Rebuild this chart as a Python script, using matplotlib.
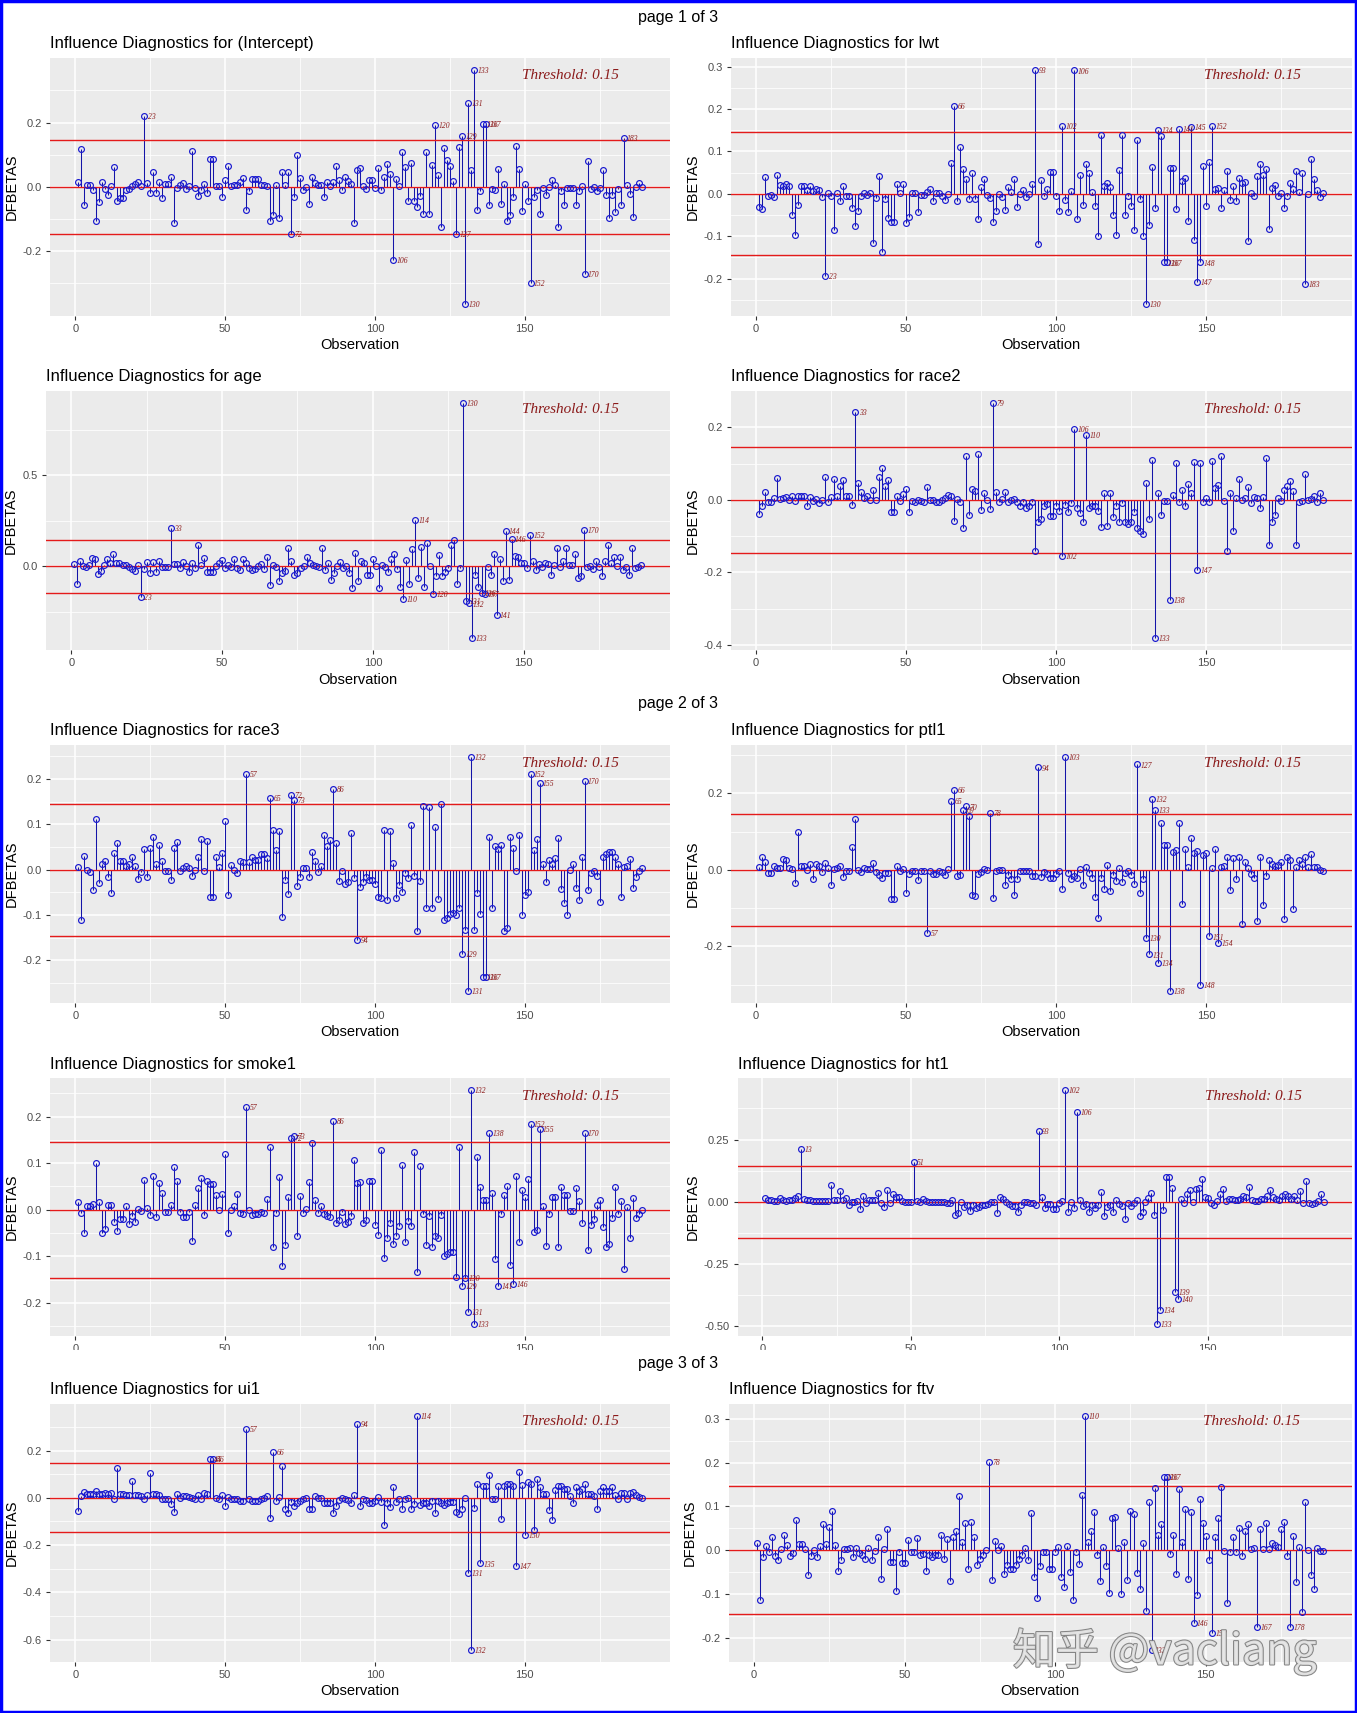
import matplotlib.pyplot as plt
import matplotlib.patches as mpatches
import matplotlib.patheffects as pe
from matplotlib.ticker import FuncFormatter

plt.rcParams['font.family'] = ['Liberation Sans', 'DejaVu Sans']

obs = list(range(1, 190))
threshold = 0.1455  # 2/sqrt(n), shown as 0.15

dfb_intercept = [
    0.016, 0.118, -0.056, 0.007, 0.007, -0.010, -0.108, -0.046, 0.016, -0.007,
    -0.025, 0.004, 0.062, -0.043, -0.035, -0.035, -0.011, -0.007, 0.003, 0.008,
    0.016, 0.004, 0.220, 0.011, -0.018, 0.046, -0.018, 0.015, -0.034, 0.009,
    0.009, 0.031, -0.114, -0.005, 0.006, 0.011, -0.008, 0.004, 0.112, -0.003,
    -0.030, -0.009, 0.010, -0.020, 0.087, 0.087, 0.003, 0.003, -0.033, 0.020,
    0.066, 0.002, 0.005, 0.005, 0.016, 0.026, -0.073, -0.013, 0.025, 0.023,
    0.023, 0.007, 0.007, 0.001, -0.107, -0.087, 0.007, -0.098, 0.047, 0.007,
    0.047, -0.147, -0.033, 0.099, 0.029, -0.011, 0.000, -0.052, 0.031, 0.011,
    0.007, 0.007, -0.033, 0.016, 0.003, 0.014, 0.065, 0.021, -0.011, 0.031,
    0.019, 0.010, -0.114, 0.053, 0.058, 0.004, -0.006, 0.020, 0.020, -0.004,
    0.060, -0.011, 0.032, 0.071, 0.041, -0.229, 0.025, 0.003, 0.108, 0.061,
    -0.045, 0.074, -0.043, -0.062, -0.028, -0.084, 0.108, -0.084, 0.068, 0.194,
    0.038, -0.124, 0.121, 0.082, 0.066, 0.018, -0.147, 0.123, 0.158, -0.365,
    0.260, 0.053, 0.365, -0.071, -0.014, 0.195, 0.195, -0.056, -0.007, -0.011,
    0.056, -0.052, 0.010, -0.105, -0.088, -0.031, 0.127, 0.057, -0.076, 0.009,
    -0.045, -0.300, -0.033, -0.011, -0.084, -0.004, -0.025, -0.002, 0.021, 0.005,
    -0.124, -0.014, -0.056, -0.004, -0.004, -0.004, -0.056, -0.014, 0.004, -0.270,
    0.080, -0.006, 0.000, -0.014, -0.004, 0.052, -0.025, -0.097, -0.027, -0.079,
    -0.006, -0.056, 0.152, 0.007, -0.022, -0.093, 0.000, 0.013, 0.000]

dfb_lwt = [
    -0.030, -0.037, 0.040, -0.005, -0.002, -0.007, 0.045, 0.020, 0.018, 0.024,
    0.018, -0.049, -0.098, -0.026, 0.018, 0.018, 0.010, 0.018, 0.007, 0.011,
    0.010, -0.007, -0.193, 0.003, -0.005, -0.085, 0.002, -0.016, 0.018, -0.005,
    -0.005, -0.033, -0.077, -0.040, -0.005, 0.001, -0.002, 0.003, -0.117, -0.010,
    0.042, -0.138, -0.012, -0.058, -0.067, -0.067, 0.024, 0.003, 0.024, -0.070,
    -0.055, 0.003, 0.003, -0.044, -0.002, -0.002, 0.005, 0.011, -0.016, 0.003,
    0.003, -0.006, -0.014, -0.001, 0.073, 0.208, -0.016, 0.110, 0.058, 0.035,
    -0.012, 0.050, -0.012, -0.059, 0.016, 0.035, -0.002, -0.009, -0.067, -0.041,
    0.000, -0.007, -0.039, 0.016, 0.005, 0.035, -0.030, 0.000, 0.010, -0.007,
    -0.001, 0.024, 0.293, -0.119, 0.033, -0.005, 0.012, 0.051, 0.051, -0.005,
    -0.041, 0.160, -0.014, -0.044, 0.007, 0.291, -0.059, 0.045, -0.026, 0.071,
    0.050, 0.005, -0.028, -0.100, 0.138, 0.018, 0.026, 0.016, -0.050, -0.098,
    0.056, 0.138, -0.050, -0.005, -0.028, -0.086, 0.126, -0.012, -0.100, -0.260,
    -0.073, 0.064, -0.033, 0.150, 0.136, -0.162, -0.162, 0.061, 0.061, -0.037,
    0.153, 0.030, 0.037, -0.063, 0.158, -0.108, -0.207, -0.162, 0.065, -0.028,
    0.075, 0.161, 0.011, 0.013, -0.033, 0.009, 0.054, -0.014, 0.018, -0.016,
    0.037, 0.026, 0.028, -0.112, 0.003, -0.005, 0.042, 0.070, 0.045, 0.058,
    -0.082, 0.014, 0.021, -0.005, 0.003, -0.034, -0.004, 0.026, 0.012, 0.054,
    0.005, 0.048, -0.213, 0.000, 0.083, 0.035, 0.010, -0.007, 0.003]

dfb_age = [
    0.011, -0.099, 0.029, 0.002, -0.002, 0.009, 0.044, 0.038, -0.044, -0.026,
    0.009, 0.042, 0.020, 0.066, 0.020, 0.020, 0.009, 0.005, -0.005, -0.016,
    -0.027, 0.007, -0.168, -0.015, 0.024, -0.038, 0.022, -0.031, 0.029, -0.002,
    -0.002, -0.002, 0.210, 0.013, 0.013, -0.009, 0.022, 0.000, -0.031, 0.018,
    -0.009, 0.115, 0.007, 0.044, -0.031, -0.031, -0.031, 0.002, 0.016, 0.033,
    -0.009, 0.007, -0.004, 0.038, -0.009, -0.020, 0.040, 0.016, -0.007, -0.022,
    -0.013, 0.004, 0.015, -0.015, 0.049, -0.103, 0.005, -0.005, -0.082, -0.038,
    -0.024, 0.103, 0.029, -0.046, -0.035, -0.009, 0.000, 0.053, 0.020, 0.009,
    0.000, -0.004, 0.103, -0.020, 0.016, -0.075, -0.035, 0.002, 0.024, -0.009,
    0.004, -0.038, -0.119, 0.071, -0.081, 0.031, 0.016, -0.049, -0.049, 0.040,
    0.000, -0.119, 0.009, -0.005, -0.031, 0.042, 0.066, -0.013, -0.115, -0.181,
    0.035, -0.095, 0.095, 0.253, -0.064, 0.104, -0.114, 0.126, 0.000, -0.150,
    -0.055, 0.060, -0.051, -0.033, -0.009, 0.115, 0.144, -0.095, -0.009, 0.896,
    -0.190, -0.203, -0.394, -0.046, -0.114, -0.148, -0.152, -0.005, -0.046, 0.066,
    -0.266, 0.040, -0.081, 0.196, -0.077, 0.150, 0.057, 0.049, 0.016, 0.020,
    -0.009, 0.172, 0.029, -0.020, 0.011, -0.005, 0.016, 0.013, -0.049, 0.009,
    0.099, -0.004, 0.029, 0.099, 0.007, 0.009, 0.066, -0.064, -0.055, 0.198,
    -0.005, 0.004, -0.016, 0.029, -0.005, -0.051, 0.029, 0.119, 0.020, 0.053,
    0.004, 0.049, -0.020, -0.005, -0.049, 0.101, -0.009, -0.005, 0.007]

dfb_race2 = [
    -0.039, -0.016, 0.022, -0.005, -0.005, 0.005, 0.061, 0.003, 0.005, 0.008,
    0.000, 0.012, -0.003, 0.012, 0.012, 0.012, -0.017, 0.007, -0.004, 0.003,
    -0.009, 0.000, 0.064, -0.006, 0.007, 0.058, 0.012, 0.039, 0.055, 0.012,
    0.012, -0.013, 0.242, 0.047, 0.022, 0.004, 0.012, 0.000, 0.028, 0.000,
    0.064, 0.089, 0.039, 0.055, -0.032, -0.032, 0.012, -0.003, 0.017, 0.030,
    -0.034, -0.003, -0.005, 0.000, -0.002, -0.005, 0.037, 0.000, 0.000, -0.005,
    -0.005, 0.000, 0.005, 0.014, 0.012, -0.057, 0.003, -0.007, -0.078, 0.120,
    -0.042, 0.030, 0.026, 0.128, -0.028, 0.018, 0.000, -0.025, 0.268, 0.022,
    -0.006, 0.003, 0.022, -0.007, 0.000, 0.003, -0.006, -0.016, -0.006, -0.022,
    -0.016, -0.006, -0.142, -0.062, -0.053, -0.016, -0.012, -0.045, -0.045, -0.018,
    -0.031, -0.154, -0.014, -0.032, -0.009, 0.197, -0.022, -0.035, -0.060, 0.180,
    -0.023, -0.018, -0.018, -0.031, -0.074, 0.018, -0.071, 0.018, -0.046, -0.016,
    -0.060, -0.009, -0.062, -0.066, -0.060, -0.034, -0.078, -0.087, -0.094, 0.047,
    -0.053, 0.110, -0.382, 0.019, -0.041, -0.003, -0.003, -0.277, 0.014, 0.103,
    -0.006, 0.028, -0.018, 0.043, 0.018, 0.104, -0.194, 0.103, -0.005, 0.006,
    -0.006, 0.108, 0.032, 0.042, 0.120, -0.003, -0.141, 0.019, -0.087, 0.005,
    0.058, 0.000, 0.005, 0.037, -0.009, 0.008, 0.004, -0.022, 0.008, 0.116,
    -0.124, -0.060, -0.043, 0.006, -0.003, 0.028, 0.039, 0.051, 0.026, -0.124,
    -0.006, -0.003, 0.072, -0.001, 0.003, 0.012, -0.006, 0.018, 0.000]

dfb_race3 = [
    0.005, -0.111, 0.031, -0.001, -0.005, -0.045, 0.112, -0.030, 0.013, 0.019,
    -0.017, -0.052, 0.036, 0.058, 0.020, 0.020, 0.007, 0.012, 0.027, 0.007,
    -0.021, -0.005, 0.045, -0.017, 0.048, 0.073, 0.013, 0.055, 0.020, -0.003,
    -0.003, -0.023, 0.047, 0.061, -0.003, 0.004, 0.007, 0.004, -0.015, 0.000,
    0.027, 0.067, -0.004, 0.064, -0.061, -0.061, 0.028, 0.005, 0.036, 0.108,
    -0.055, 0.010, -0.001, -0.007, 0.020, 0.018, 0.212, 0.018, 0.027, 0.022,
    0.022, 0.034, 0.034, 0.026, 0.159, 0.088, 0.043, 0.086, -0.104, -0.023,
    -0.054, 0.164, 0.154, -0.036, -0.017, 0.004, 0.004, -0.017, 0.040, 0.020,
    -0.005, 0.007, 0.077, 0.053, 0.066, 0.179, 0.059, -0.025, -0.003, -0.031,
    -0.027, 0.080, -0.019, -0.155, -0.039, -0.027, -0.017, -0.023, -0.023, -0.031,
    -0.060, -0.063, 0.088, -0.066, 0.085, 0.015, -0.063, -0.034, -0.049, -0.007,
    -0.019, 0.098, -0.015, -0.135, -0.025, 0.141, -0.085, 0.139, -0.084, 0.095,
    -0.064, 0.144, -0.110, -0.107, -0.098, -0.095, -0.101, -0.085, -0.185, -0.133,
    -0.268, 0.249, -0.133, -0.052, -0.098, -0.236, -0.236, 0.073, -0.085, 0.053,
    0.045, 0.055, -0.135, -0.128, 0.071, 0.047, -0.004, 0.076, -0.100, -0.056,
    -0.049, 0.211, 0.043, 0.067, 0.192, 0.013, -0.027, 0.022, 0.012, 0.025,
    0.069, -0.042, -0.073, -0.101, 0.000, 0.013, -0.040, -0.066, 0.029, 0.196,
    -0.044, -0.007, -0.004, -0.014, -0.072, 0.029, 0.034, 0.040, 0.040, 0.027,
    0.012, -0.060, 0.005, 0.007, 0.023, -0.040, -0.017, -0.004, 0.003]

dfb_ptl1 = [
    0.007, 0.033, 0.022, -0.007, -0.007, 0.010, 0.006, 0.006, 0.028, 0.025,
    0.006, 0.002, -0.035, 0.099, 0.010, 0.010, 0.000, 0.015, -0.023, 0.015,
    0.010, -0.005, 0.017, 0.006, -0.040, 0.003, 0.006, 0.010, -0.018, -0.003,
    -0.003, 0.060, 0.134, 0.000, -0.005, 0.006, 0.003, 0.003, 0.019, -0.005,
    -0.014, -0.022, -0.007, -0.007, -0.075, -0.075, 0.010, -0.003, 0.002, -0.060,
    -0.010, -0.003, -0.003, -0.027, -0.003, -0.003, -0.165, -0.003, -0.010, -0.010,
    -0.003, -0.005, -0.013, 0.002, 0.181, 0.210, -0.016, -0.014, 0.157, 0.166,
    0.140, -0.065, -0.069, -0.011, -0.005, 0.003, 0.000, 0.149, -0.074, -0.003,
    0.000, 0.000, -0.040, -0.014, -0.023, -0.066, -0.023, -0.003, -0.003, -0.003,
    -0.003, -0.016, -0.016, 0.268, -0.018, -0.005, -0.010, -0.020, -0.020, -0.010,
    -0.003, -0.049, 0.296, -0.007, -0.023, -0.016, -0.022, 0.003, -0.040, 0.008,
    -0.007, -0.022, -0.071, -0.125, -0.022, -0.049, 0.012, -0.055, -0.014, -0.029,
    0.006, -0.032, -0.007, -0.003, -0.014, -0.037, 0.276, -0.061, -0.023, -0.177,
    -0.221, 0.185, 0.157, -0.244, 0.122, 0.064, 0.064, -0.317, 0.048, 0.051,
    0.122, -0.089, 0.054, 0.009, 0.083, 0.045, 0.049, -0.301, 0.038, 0.045,
    -0.174, 0.004, 0.054, -0.192, 0.007, 0.010, 0.035, -0.052, 0.030, -0.023,
    0.033, -0.141, 0.022, 0.004, -0.011, -0.022, -0.133, 0.035, -0.091, -0.016,
    0.025, 0.015, 0.010, 0.012, 0.022, -0.128, 0.035, 0.025, -0.101, 0.007,
    0.025, 0.015, 0.033, 0.009, 0.042, 0.007, 0.007, -0.001, -0.003]

dfb_smoke1 = [
    0.016, -0.007, -0.049, 0.007, 0.007, 0.013, 0.100, 0.016, -0.050, -0.041,
    0.010, 0.011, -0.026, -0.046, -0.020, -0.020, 0.007, -0.030, -0.013, -0.027,
    0.001, -0.003, 0.063, 0.004, -0.011, 0.072, -0.015, 0.058, 0.037, -0.004,
    -0.004, 0.011, 0.091, 0.061, -0.004, -0.015, -0.015, -0.004, -0.066, 0.011,
    0.047, 0.069, -0.011, 0.061, 0.055, 0.055, 0.031, 0.000, 0.033, 0.119,
    -0.050, -0.001, 0.009, 0.034, -0.007, -0.009, 0.220, 0.000, -0.011, -0.009,
    -0.009, -0.004, -0.007, 0.023, 0.134, -0.081, -0.007, 0.070, -0.120, -0.075,
    0.027, 0.154, 0.159, -0.056, 0.029, -0.007, 0.001, 0.059, 0.144, 0.021,
    -0.007, 0.007, -0.009, -0.013, -0.015, 0.190, -0.029, -0.023, -0.004, -0.030,
    -0.026, -0.014, 0.107, 0.058, 0.060, -0.029, -0.021, 0.061, 0.061, -0.032,
    -0.054, 0.129, -0.104, -0.060, -0.029, -0.073, -0.057, -0.034, 0.096, -0.069,
    -0.024, -0.034, 0.124, -0.134, 0.094, -0.009, -0.076, -0.014, -0.079, -0.057,
    -0.061, -0.011, -0.099, -0.095, -0.091, -0.091, -0.144, 0.134, -0.164, -0.147,
    -0.219, 0.257, -0.246, 0.113, 0.049, 0.021, 0.021, 0.165, 0.036, -0.105,
    -0.163, -0.009, 0.031, 0.050, -0.118, -0.159, 0.073, -0.070, 0.043, 0.028,
    0.066, 0.184, -0.047, -0.043, 0.173, 0.007, -0.077, -0.009, 0.028, 0.028,
    -0.080, 0.049, 0.031, 0.031, -0.003, -0.003, 0.047, 0.019, -0.029, 0.165,
    -0.086, -0.032, -0.020, 0.011, 0.021, -0.036, -0.081, -0.074, -0.017, 0.049,
    -0.009, 0.019, -0.127, 0.006, -0.060, 0.026, -0.017, -0.009, -0.001]

dfb_ht1 = [
    0.013, 0.008, 0.005, 0.001, 0.004, 0.015, 0.005, 0.004, 0.008, 0.007,
    0.013, 0.023, 0.211, 0.011, 0.007, 0.005, 0.003, 0.003, 0.003, 0.004,
    0.004, 0.004, 0.068, 0.008, 0.008, 0.044, 0.008, 0.013, -0.015, -0.001,
    -0.001, 0.003, -0.029, 0.024, -0.004, 0.008, 0.008, 0.008, 0.036, -0.004,
    -0.020, 0.047, -0.004, 0.029, 0.019, 0.019, 0.003, -0.001, -0.001, -0.001,
    0.160, 0.003, -0.001, 0.009, 0.001, -0.001, -0.001, -0.001, -0.001, -0.001,
    -0.001, -0.007, -0.005, 0.008, -0.053, -0.045, 0.000, -0.023, -0.012, -0.036,
    -0.013, -0.027, -0.020, -0.015, -0.012, -0.009, -0.003, -0.001, -0.044, 0.017,
    0.009, -0.001, -0.009, -0.017, -0.017, -0.043, -0.012, -0.003, -0.003, -0.005,
    -0.005, -0.015, 0.285, 0.020, -0.027, -0.008, -0.009, -0.031, -0.031, -0.005,
    0.003, 0.449, -0.040, 0.000, -0.027, 0.361, 0.007, -0.017, -0.009, -0.040,
    -0.013, -0.024, -0.012, 0.041, -0.059, -0.023, -0.013, -0.041, 0.005, -0.009,
    -0.017, -0.068, -0.004, -0.016, -0.005, 0.008, -0.059, -0.041, -0.001, 0.015,
    0.036, -0.055, -0.493, -0.436, -0.032, 0.098, 0.098, 0.056, -0.364, -0.389,
    0.011, -0.004, 0.032, 0.048, 0.000, 0.053, 0.057, 0.090, 0.020, 0.015,
    -0.004, -0.013, 0.003, 0.032, 0.053, 0.003, 0.011, 0.009, 0.007, 0.007,
    0.011, 0.021, 0.017, 0.061, 0.008, 0.004, 0.004, 0.009, 0.011, 0.021,
    0.048, 0.017, 0.011, 0.007, 0.024, 0.032, 0.021, 0.011, 0.021, 0.008,
    0.044, -0.004, 0.084, -0.004, -0.009, -0.004, 0.003, 0.032, -0.003]

dfb_ui1 = [
    -0.055, 0.007, 0.025, 0.014, 0.017, 0.014, 0.029, 0.017, 0.014, 0.020,
    0.014, 0.020, -0.004, 0.128, 0.014, 0.014, 0.010, 0.010, 0.073, 0.010,
    0.010, 0.007, -0.004, 0.010, 0.104, 0.014, 0.014, 0.010, -0.007, -0.004,
    -0.007, -0.028, -0.059, 0.015, -0.003, 0.007, 0.006, 0.003, 0.000, -0.006,
    0.010, -0.007, 0.020, 0.015, 0.165, 0.165, 0.000, -0.007, 0.013, -0.036,
    0.003, -0.004, -0.004, -0.007, -0.013, -0.013, 0.290, -0.004, -0.015, -0.015,
    -0.013, -0.007, -0.001, 0.007, -0.084, 0.194, -0.013, 0.003, 0.135, -0.046,
    -0.063, -0.017, -0.036, -0.024, -0.013, -0.004, 0.001, -0.049, -0.049, 0.006,
    0.000, -0.003, -0.021, -0.024, -0.024, -0.063, -0.036, -0.008, 0.000, -0.007,
    -0.008, -0.021, 0.013, 0.314, -0.034, -0.004, -0.010, -0.024, -0.024, -0.013,
    0.004, -0.018, -0.115, -0.024, -0.041, 0.046, -0.017, -0.007, -0.046, -0.007,
    0.000, -0.046, -0.028, 0.348, -0.032, -0.024, -0.024, -0.036, -0.013, -0.066,
    -0.013, -0.024, -0.031, -0.024, -0.020, -0.020, -0.060, -0.069, -0.049, -0.003,
    -0.317, -0.644, -0.042, 0.060, -0.278, 0.050, 0.050, 0.097, -0.004, -0.007,
    0.050, -0.088, 0.050, 0.060, 0.060, 0.050, -0.290, 0.108, 0.055, -0.156,
    0.067, 0.060, -0.136, 0.081, 0.046, 0.014, 0.017, -0.053, -0.094, 0.034,
    0.050, 0.050, 0.039, 0.036, 0.007, -0.021, 0.046, 0.029, 0.036, 0.060,
    0.014, 0.014, 0.007, -0.049, 0.029, 0.046, 0.029, 0.029, 0.046, 0.013,
    -0.004, 0.020, 0.022, -0.007, 0.020, 0.025, 0.010, 0.004, 0.000]

dfb_ftv = [
    0.016, -0.114, -0.016, 0.009, -0.003, 0.030, -0.014, -0.021, 0.003, 0.035,
    0.012, -0.014, -0.006, 0.068, 0.014, 0.014, 0.003, -0.056, -0.014, 0.000,
    -0.016, 0.009, 0.059, 0.014, 0.052, 0.089, 0.011, -0.047, -0.023, 0.003,
    0.003, 0.006, -0.016, 0.005, -0.006, -0.011, -0.020, 0.005, -0.022, -0.001,
    0.030, -0.066, 0.003, 0.049, -0.027, -0.027, -0.092, -0.003, -0.030, -0.030,
    0.023, -0.003, -0.003, 0.027, -0.010, -0.008, -0.048, -0.010, -0.015, -0.010,
    -0.010, 0.035, -0.020, 0.025, -0.070, 0.030, 0.044, 0.123, 0.018, 0.063,
    -0.042, 0.064, 0.030, -0.033, -0.020, -0.010, 0.000, 0.201, -0.068, 0.022,
    0.000, 0.009, -0.055, -0.033, -0.043, -0.043, -0.033, -0.020, -0.010, 0.005,
    -0.021, 0.084, -0.061, -0.109, -0.036, -0.004, -0.004, -0.043, -0.043, -0.003,
    0.008, -0.061, -0.084, 0.009, -0.050, -0.114, -0.003, -0.032, 0.127, 0.307,
    0.018, 0.045, 0.088, -0.011, -0.070, 0.008, -0.035, -0.098, 0.074, 0.077,
    0.005, -0.100, 0.018, -0.068, 0.089, 0.083, -0.051, -0.088, 0.016, -0.139,
    0.110, -0.227, 0.143, 0.034, 0.060, 0.168, 0.168, -0.009, 0.035, -0.055,
    0.139, 0.020, 0.093, -0.066, 0.088, -0.166, -0.102, 0.118, 0.063, 0.032,
    -0.023, -0.188, 0.030, 0.074, 0.144, -0.001, -0.120, -0.004, 0.030, -0.004,
    0.051, -0.014, 0.045, 0.061, 0.002, 0.006, -0.174, 0.048, 0.003, 0.062,
    0.003, 0.016, 0.013, 0.008, 0.048, 0.064, -0.013, -0.174, 0.032, -0.072,
    0.007, -0.140, 0.111, 0.000, -0.056, -0.088, 0.005, -0.001, -0.001]

W, H = 1242.0, 1568.0  # layout measured on the reference (shrunk px)


def rect(l, r, t, b):
    return [l / W, 1 - b / H, (r - l) / W, (b - t) / H]


# name, values, major y ticks, minor y ticks, decimals, axes box (l, r, t, b), show xlabel
panels = [
    ("(Intercept)", dfb_intercept, [-0.2, 0.0, 0.2], [-0.3, -0.1, 0.1, 0.3], 1, (46, 613, 53, 289), True),
    ("lwt", dfb_lwt, [-0.2, -0.1, 0.0, 0.1, 0.2, 0.3], [-0.25, -0.15, -0.05, 0.05, 0.15, 0.25], 1, (669, 1237, 53, 289), True),
    ("age", dfb_age, [0.0, 0.5], [-0.25, 0.25, 0.75], 1, (42, 613, 358, 595), True),
    ("race2", dfb_race2, [-0.4, -0.2, 0.0, 0.2], [-0.3, -0.1, 0.1], 1, (669, 1237, 358, 595), True),
    ("race3", dfb_race3, [-0.2, -0.1, 0.0, 0.1, 0.2], [-0.25, -0.15, -0.05, 0.05, 0.15, 0.25], 1, (46, 613, 682, 918), True),
    ("ptl1", dfb_ptl1, [-0.2, 0.0, 0.2], [-0.3, -0.1, 0.1, 0.3], 1, (669, 1237, 682, 918), True),
    ("smoke1", dfb_smoke1, [-0.2, -0.1, 0.0, 0.1, 0.2], [-0.25, -0.15, -0.05, 0.05, 0.15, 0.25], 1, (46, 613, 987, 1223), False),
    ("ht1", dfb_ht1, [-0.5, -0.25, 0.0, 0.25], [-0.375, -0.125, 0.125, 0.375], 2, (675, 1237, 987, 1223), False),
    ("ui1", dfb_ui1, [-0.6, -0.4, -0.2, 0.0, 0.2], [-0.5, -0.3, -0.1, 0.1, 0.3], 1, (46, 613, 1285, 1521), True),
    ("ftv", dfb_ftv, [-0.2, -0.1, 0.0, 0.1, 0.2, 0.3], [-0.15, -0.05, 0.05, 0.15, 0.25], 1, (667, 1237, 1285, 1521), True),
]

fig = plt.figure(figsize=(13.57, 17.13), dpi=100)

stem_col = '#1414A8'
point_col = '#1a1ad0'
line_col = '#E41A1A'
lab_col = '#8B1A1A'

for name, vals, major, minor, dec, box, show_xlab in panels:
    ax = fig.add_axes(rect(*box))
    ax.set_facecolor('#EBEBEB')
    for s in ax.spines.values():
        s.set_visible(False)
    ax.set_axisbelow(True)
    ax.grid(which='major', color='white', lw=1.1)
    ax.grid(which='minor', color='white', lw=0.55)

    ax.vlines(obs, 0, vals, color=stem_col, lw=0.75, zorder=2)
    ax.plot(obs, vals, 'o', mfc='none', mec=point_col, ms=4.2, mew=0.85, zorder=3)
    ax.axhline(0, color=line_col, lw=1.0, zorder=2.5)
    ax.axhline(threshold, color=line_col, lw=1.0, zorder=2.5)
    ax.axhline(-threshold, color=line_col, lw=1.0, zorder=2.5)

    for i, v in zip(obs, vals):
        if abs(v) > threshold:
            ax.annotate(str(i), (i, v), xytext=(2.5, -0.8), textcoords='offset points',
                        fontsize=5.5, style='italic', color=lab_col, va='center', ha='left',
                        family='Liberation Serif', zorder=4)

    ax.text(0.84, 0.93, "Threshold: 0.15", transform=ax.transAxes, ha='center', va='center',
            fontsize=11, style='italic', family='Liberation Serif', color=lab_col)

    pad_x = 0.05 * (max(obs) - min(obs))
    ax.set_xlim(min(obs) - pad_x, max(obs) + pad_x)
    lo, hi = min(vals), max(vals)
    pad_y = 0.05 * (hi - lo)
    ax.set_ylim(lo - pad_y, hi + pad_y)

    ax.set_xticks([0, 50, 100, 150])
    ax.set_xticks([25, 75, 125, 175], minor=True)
    ax.set_yticks(major)
    ax.set_yticks(minor, minor=True)
    ax.yaxis.set_major_formatter(FuncFormatter(lambda v, p, d=dec: f"{v:.{d}f}"))
    ax.tick_params(which='minor', length=0)
    ax.tick_params(which='major', length=3, width=0.8, color='#333333',
                   labelsize=8, labelcolor='#4D4D4D', pad=3)

    ax.set_title(f"Influence Diagnostics for {name}", loc='left', fontsize=12, pad=7)
    ax.set_ylabel("DFBETAS", fontsize=10.5, labelpad=3)
    if show_xlab:
        ax.set_xlabel("Observation", fontsize=10.5, labelpad=3)

# page 2 is cut off at the bottom in the original
fig.add_artist(mpatches.Rectangle((0.002, 1 - 1262 / H), 0.996, (1262 - 1236) / H,
                                  transform=fig.transFigure, facecolor='white',
                                  edgecolor='none', zorder=10))

for label, yc in [("page 1 of 3", 16), ("page 2 of 3", 644), ("page 3 of 3", 1248)]:
    fig.text(0.5, 1 - yc / H, label, ha='center', va='center', fontsize=11.5, zorder=11)

fig.text(1066 / W, 1 - 1512 / H, "知乎 @vacliang", ha='center', va='center', fontsize=31,
         family=['Noto Sans CJK SC', 'DejaVu Sans'], color='#e6e6e6', alpha=0.9,
         path_effects=[pe.withStroke(linewidth=1.5, foreground='#7a7a7a')], zorder=12)

fig.add_artist(mpatches.Rectangle((0.0008, 0.0008), 0.9984, 0.9984, transform=fig.transFigure,
                                  fill=False, edgecolor='#0000FF', lw=2.5, zorder=13))

fig.savefig('out.png', dpi=100, facecolor='white')
